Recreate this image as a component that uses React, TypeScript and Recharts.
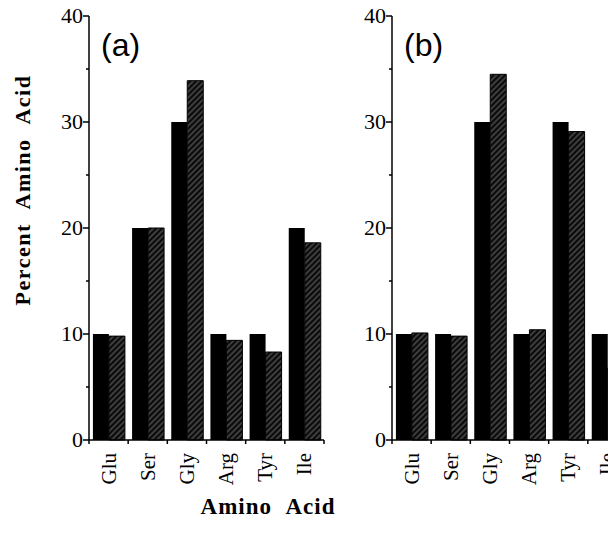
import React from "react";
import { BarChart, Bar, XAxis, YAxis } from "recharts";

// amino acid categories and percentages
const acids = ["Glu", "Ser", "Gly", "Arg", "Tyr", "Ile"];
const solidA = [10, 20, 30, 10, 10, 20];
const hatchA = [9.8, 20, 33.9, 9.4, 8.3, 18.6];
const solidB = [10, 10, 30, 10, 30, 10];
const hatchB = [10.1, 9.8, 34.5, 10.4, 29.1, 6.8];
const yTicks = [0, 5, 10, 15, 20, 25, 30, 35, 40];

const CHART_W = 330;
const CHART_H = 500;
const MARGIN = { top: 16, right: 6, bottom: 0, left: 29 };
const Y_W = 60;
const BAND = (CHART_W - MARGIN.left - MARGIN.right - Y_W) / acids.length;
const SERIF = "'Liberation Serif', 'Times New Roman', serif";

function YTick(props: any) {
  const { x, y, payload } = props;
  const major = payload.value % 10 === 0;
  return (
    <g>
      <line x1={x} x2={x - (major ? 6 : 3)} y1={y} y2={y} stroke="#000" strokeWidth={1.5} />
      {major && (
        <text x={x - 6} y={y} dy={7} textAnchor="end" fontSize={22} fontFamily={SERIF} fill="#000">
          {payload.value}
        </text>
      )}
    </g>
  );
}

function XTick(props: any) {
  const { x, y, payload, index } = props;
  const half = BAND / 2;
  return (
    <g>
      <line x1={x - half} x2={x - half} y1={y} y2={y + 4} stroke="#000" strokeWidth={1.5} />
      {index === acids.length - 1 && (
        <line x1={x + half} x2={x + half} y1={y} y2={y + 4} stroke="#000" strokeWidth={1.5} />
      )}
      <text
        transform={`translate(${x + 7},${y + 13}) rotate(-90)`}
        textAnchor="end"
        fontSize={21}
        fontFamily={SERIF}
        fill="#000"
      >
        {payload.value}
      </text>
    </g>
  );
}

function Panel({ solid, hatch, left, tag }: { solid: number[]; hatch: number[]; left: number; tag: string }) {
  const data = acids.map((name, i) => ({ name, solid: solid[i], hatch: hatch[i] }));
  return (
    <div style={{ position: "absolute", left, top: 0 }}>
      <BarChart width={CHART_W} height={CHART_H} data={data} margin={MARGIN} barCategoryGap="10%" barGap={0}>
        <XAxis
          dataKey="name"
          height={60}
          interval={0}
          tickSize={0}
          tickMargin={0}
          tick={<XTick />}
          axisLine={{ stroke: "#000", strokeWidth: 1.5 }}
          tickLine={false}
        />
        <XAxis xAxisId="top" dataKey="name" orientation="top" height={0} tick={false} tickLine={false}
          axisLine={{ stroke: "#000", strokeWidth: 1.5 }} />
        <YAxis
          width={Y_W}
          domain={[0, 40]}
          ticks={yTicks}
          interval={0}
          tickSize={0}
          tickMargin={0}
          tick={<YTick />}
          tickLine={false}
          axisLine={{ stroke: "#000", strokeWidth: 1.5 }}
        />
        <YAxis yAxisId="right" orientation="right" width={0} domain={[0, 40]} tick={false} tickLine={false}
          axisLine={{ stroke: "#000", strokeWidth: 1.5 }} />
        <Bar dataKey="solid" fill="#000" isAnimationActive={false} />
        <Bar dataKey="hatch" fill="url(#hatch)" stroke="#000" strokeWidth={1} isAnimationActive={false} />
      </BarChart>
      <div
        style={{
          position: "absolute",
          left: MARGIN.left + Y_W + 12,
          top: 29,
          fontSize: 32,
          lineHeight: 1,
          fontFamily: "'Liberation Sans', Arial, sans-serif",
        }}
      >
        {tag}
      </div>
    </div>
  );
}

export default function App() {
  return (
    <div style={{ position: "absolute", left: 0, top: 0, width: 608, height: 534, overflow: "hidden", background: "#fff" }}>
      <svg width={0} height={0} style={{ position: "absolute" }}>
        <defs>
          <pattern id="hatch" width={4} height={4} patternUnits="userSpaceOnUse" patternTransform="rotate(45)">
            <rect width={4} height={4} fill="#0a0a0a" />
            <line x1={2} y1={0} x2={2} y2={4} stroke="#fff" strokeWidth={0.7} strokeOpacity={0.6} />
          </pattern>
        </defs>
      </svg>
      <Panel solid={solidA} hatch={hatchA} left={0} tag="(a)" />
      <Panel solid={solidB} hatch={hatchB} left={303} tag="(b)" />
      <div
        style={{
          position: "absolute",
          left: 23,
          top: 190,
          transform: "translate(-50%, -50%) rotate(-90deg)",
          whiteSpace: "nowrap",
          fontFamily: SERIF,
          fontWeight: "bold",
          fontSize: 22,
          wordSpacing: 8,
          letterSpacing: 1.5,
        }}
      >
        Percent Amino Acid
      </div>
      <div
        style={{
          position: "absolute",
          left: 268,
          top: 507,
          transform: "translate(-50%, -50%)",
          whiteSpace: "nowrap",
          fontFamily: SERIF,
          fontWeight: "bold",
          fontSize: 23,
          wordSpacing: 8,
          letterSpacing: 1,
        }}
      >
        Amino Acid
      </div>
    </div>
  );
}
